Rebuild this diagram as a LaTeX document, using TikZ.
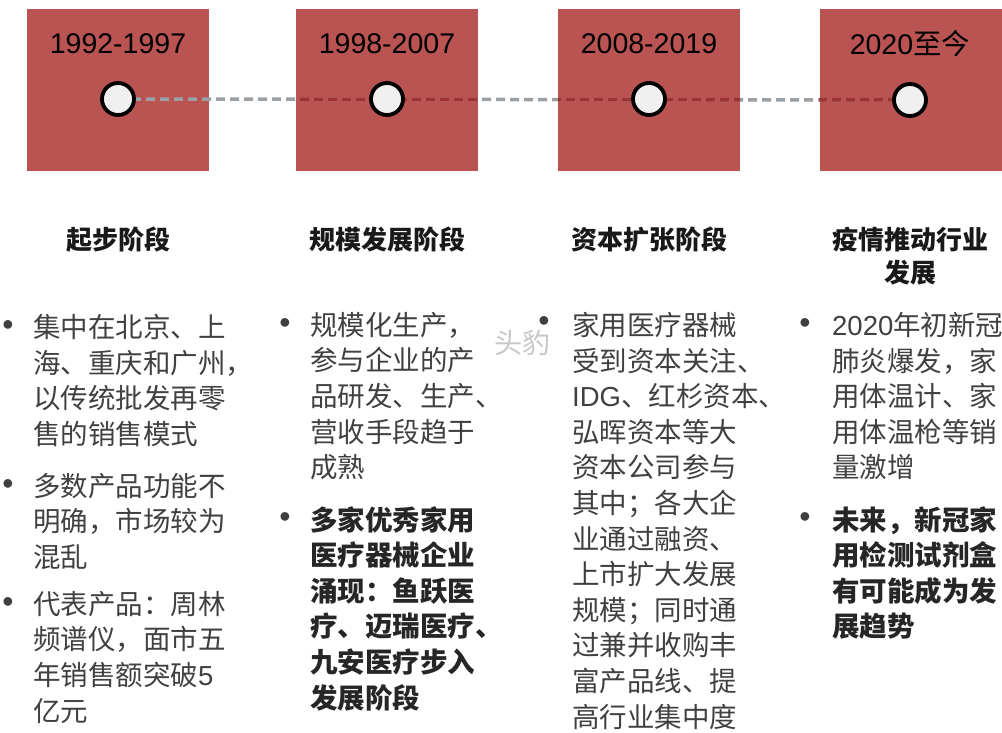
\documentclass[tikz,border=0pt]{standalone}
\usepackage{fontspec}
\setmainfont{Liberation Sans}
\newfontfamily\cjk{Noto Sans CJK SC}
\usetikzlibrary{backgrounds}
\definecolor{boxred}{RGB}{185,84,82}
\definecolor{linered}{RGB}{158,50,50}
\definecolor{linegray}{RGB}{155,160,164}
\definecolor{dotgray}{RGB}{240,240,240}
\definecolor{txt}{RGB}{64,64,64}

\begin{document}
\begin{tikzpicture}
      [   x=1pt,y=-1pt,
          yearbox/.style={fill=boxred,minimum width=182pt,minimum height=162pt,inner sep=0pt},
          year/.style={font=\fontsize{28.5}{30}\selectfont,text=black},
          dot/.style={circle,draw=black,line width=3.8pt,fill=dotgray,minimum size=32pt,inner sep=0pt},
          stage/.style={font=\cjk\bfseries\fontsize{26}{33}\selectfont,align=center,text=black!90},
          body/.style={font=\cjk\fontsize{27.5}{35.6}\selectfont,align=left,anchor=north west,inner sep=0pt,text=txt},
          strong/.style={body,font=\cjk\bfseries\fontsize{27.5}{35.6}\selectfont,text=black!85},
          bullet/.style={font=\fontsize{32}{32}\selectfont,text=txt,inner sep=0pt},
          dashline/.style={line width=3.5pt,dash pattern=on 9pt off 5pt},
      ]
          \useasboundingbox (0,0) rectangle (1002,732);

          \node[dot] (c1) at (118,99) {};
          \node[dot] (c2) at (387,99) {};
          \node[dot] (c3) at (649,99) {};
          \node[dot] (c4) at (910,100) {};

          \begin{pgfonlayer}{background}
          \node[yearbox] (b1) at (118,90) {};
          \node[yearbox] (b2) at (387,90) {};
          \node[yearbox] (b3) at (649,90) {};
          \node[yearbox] (b4) at (910.5,90) {};
          \draw[dashline,linegray] (c1.center) -- (c4.center);
          \begin{scope}
          \clip (b2.north west) rectangle (b2.south east)
                (b3.north west) rectangle (b3.south east)
                (b4.north west) rectangle (b4.south east);
          \draw[dashline,linered] (c1.center) -- (c4.center);
          \end{scope}
          \end{pgfonlayer}

          \node[year] (y1) at (118,44) {1992-1997};
          \node[year] (y2) at (387,44) {1998-2007};
          \node[year] (y3) at (649,44) {2008-2019};
          \node[year] (y4) at (910,44) {2020{\cjk 至今}};

          \node[stage] (h1) at (118,240) {起步阶段};
          \node[stage] (h2) at (387,240) {规模发展阶段};
          \node[stage] (h3) at (649,240) {资本扩张阶段};
          \node[stage] (h4) at (910,256) {疫情推动行业\\发展};

          % first stage
          \node[bullet] (p11) at (8,328) {•};
          \node[body] (t11) at (33,314) {集中在北京、上\\海、重庆和广州，\\以传统批发再零\\售的销售模式};
          \node[bullet] (p12) at (8,487) {•};
          \node[body] (t12) at (33,473) {多数产品功能不\\明确，市场较为\\混乱};
          \node[bullet] (p13) at (8,605) {•};
          \node[body] (t13) at (33,591) {代表产品：周林\\频谱仪，面市五\\年销售额突破{\rmfamily 5}\\亿元};

          % second stage
          \node[bullet] (p21) at (285,326) {•};
          \node[body] (t21) at (310,312) {规模化生产，\\参与企业的产\\品研发、生产、\\营收手段趋于\\成熟};
          \node[bullet] (p22) at (285,520) {•};
          \node[strong] (t22) at (310,506) {多家优秀家用\\医疗器械企业\\涌现：鱼跃医\\疗、迈瑞医疗、\\九安医疗步入\\发展阶段};

          % third stage
          \node[bullet] (p31) at (544,324) {•};
          \node[body] (t31) at (572,312) {家用医疗器械\\受到资本关注、\\{\rmfamily IDG}、红杉资本、\\弘晖资本等大\\资本公司参与\\其中；各大企\\业通过融资、\\上市扩大发展\\规模；同时通\\过兼并收购丰\\富产品线、提\\高行业集中度};

          % fourth stage
          \node[bullet] (p41) at (805,326) {•};
          \node[body] (t41) at (832,312) {{\rmfamily 2020}年初新冠\\肺炎爆发，家\\用体温计、家\\用体温枪等销\\量激增};
          \node[bullet] (p42) at (805,520) {•};
          \node[strong] (t42) at (832,506) {未来，新冠家\\用检测试剂盒\\有可能成为发\\展趋势};

          \node[text=black!22,font=\cjk\fontsize{28}{28}\selectfont] (wm) at (522,343) {头豹};
    \end{tikzpicture}
\end{document}
